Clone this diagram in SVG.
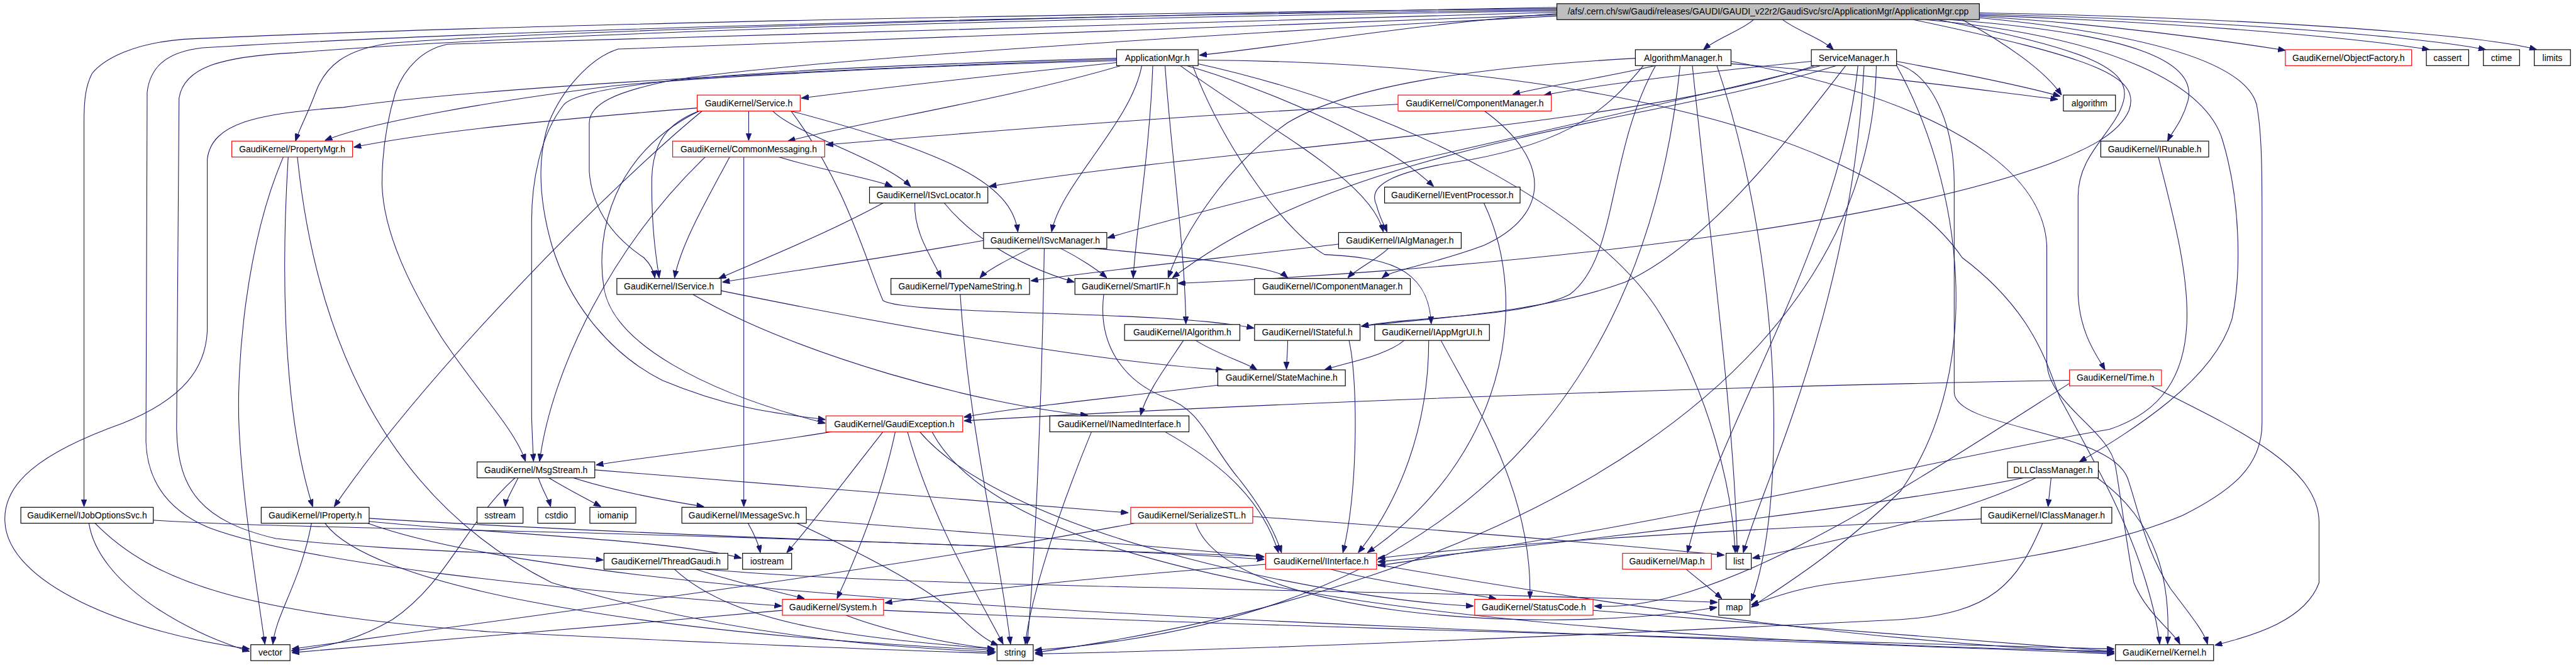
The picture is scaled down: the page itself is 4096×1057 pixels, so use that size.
<svg xmlns="http://www.w3.org/2000/svg" width="4096" height="1057" viewBox="0 0 4096 1057">
<defs>
<marker id="arr" viewBox="0 0 12 9" refX="12" refY="4.5" markerWidth="12" markerHeight="9" markerUnits="userSpaceOnUse" orient="auto"><path d="M0,0 L12,4.5 L0,9 z" fill="#191970" stroke="#191970" stroke-width="1"/></marker>
<style>
.e path{fill:none;stroke:#191970;stroke-width:1.1;marker-end:url(#arr)}
.n rect{fill:#ffffff;stroke:#000000;stroke-width:1.2}
.r rect{stroke:#ff0000}
.root rect{fill:#bfbfbf}
.n text{font-family:"Liberation Sans",Arial,"DejaVu Sans",sans-serif;font-size:14.3px;fill:#000000;text-anchor:middle}
</style>
</defs>
<rect x="0" y="0" width="4096" height="1057" fill="#ffffff"/>
<g transform="scale(0.975)">
<g id="connectors" class="e">
<path d="M2539,22 C2300,40 2100,75 1956,90"/>
<path d="M2860,32 C2840,50 2800,62 2778,81"/>
<path d="M2907,32 C2930,50 2970,62 2990,81"/>
<path d="M3228,27 C3450,40 3650,70 3727,82"/>
<path d="M3228,25 C3550,36 3850,62 3962,81"/>
<path d="M3228,23 C3600,32 3950,60 4054,81"/>
<path d="M3228,21 C3650,28 4050,56 4137,81"/>
<path d="M3200,32 C3270,70 3335,115 3362,155"/>
<path d="M3180,32 C3480,55 3585,100 3568,165 C3558,200 3542,215 3535,230"/>
<path d="M3160,32 C3400,80 3478,110 3463,165 C3450,215 3389,250 3389,320 L3389,480 C3392,545 3420,580 3433,603"/>
<path d="M3140,32 C3450,60 3600,140 3625,230 C3655,330 3655,450 3640,520 C3610,620 3480,700 3391,753"/>
<path d="M3120,32 C3420,95 3492,125 3472,180 C3455,220 3400,245 3340,268 C3000,390 2300,445 1921,462"/>
<path d="M3228,29 C3500,55 3660,100 3680,170 C3690,220 3689,300 3689,400 L3689,690 C3689,760 3640,800 3560,840 C3420,900 3200,925 3000,950 C2930,958 2890,975 2856,986"/>
<path d="M2539,12 C1800,25 900,50 640,70 C560,80 530,110 515,150 C500,190 488,210 482,230"/>
<path d="M2539,14 C1500,25 700,45 300,64 C220,70 170,95 150,120 C140,140 137,160 137,200 L137,826"/>
<path d="M2539,16 C1500,28 700,55 330,78 C270,85 245,110 240,150 L238,720 C240,780 270,830 340,860 C500,920 900,960 1275,988"/>
<path d="M2539,18 C1500,32 800,60 480,86 C360,92 300,110 292,160 L288,700 C290,800 330,850 450,878 C650,900 850,900 984,913"/>
<path d="M2539,20 C1700,40 1000,60 730,72 C690,80 660,110 645,150 C630,200 623,250 623,300 C625,380 670,470 720,550 C780,640 840,700 857,752"/>
<path d="M2539,24 C1700,50 1150,70 1008,80 C960,95 915,150 895,200 C875,260 880,330 900,400 C930,500 1000,580 1080,620 C1200,670 1280,675 1346,684"/>
<path d="M2539,26 C1900,60 1300,100 1100,130 C1000,150 962,170 961,200 L961,280 C965,330 990,380 1050,420 C1060,430 1066,440 1068,453"/>
<path d="M1821,102 C1600,125 1400,148 1307,160"/>
<path d="M1828,107 C1650,160 1400,200 1285,230"/>
<path d="M1821,99 C1400,110 1100,130 1000,140 C800,165 600,200 530,229"/>
<path d="M1821,97 C1400,110 800,140 560,175 C420,185 345,200 338,260 L338,540 C335,600 300,650 200,690 C60,740 5,790 8,850 C12,950 200,1030 407,1058"/>
<path d="M1821,95 C1300,110 960,130 920,170 C880,220 867,300 867,360 L867,680 C868,710 869,730 870,752"/>
<path d="M1935,107 C2050,140 2250,220 2338,304"/>
<path d="M1862,107 C1845,200 1730,300 1715,378"/>
<path d="M1925,107 C2050,200 2235,290 2256,378"/>
<path d="M1945,107 C2000,250 2100,380 2160,415 C2250,420 2330,430 2334,528"/>
<path d="M1880,107 C1875,250 1852,380 1848,453"/>
<path d="M1900,107 C1910,250 1932,400 1934,528"/>
<path d="M1954,98 C2500,100 3050,200 3200,420 C3320,510 3340,600 3360,650 C3420,760 3470,850 3500,950 C3515,1000 3520,1030 3522,1050"/>
<path d="M1954,104 C2300,180 2600,350 2700,500 C2790,640 2825,800 2830,901"/>
<path d="M2700,107 C2600,130 2520,140 2467,154"/>
<path d="M2680,107 C2620,180 2560,230 2400,260 C2260,280 2230,305 2245,335 C2250,355 2258,368 2262,378"/>
<path d="M2667,95 C2400,110 2200,140 2100,200 C2000,270 1930,380 1905,453"/>
<path d="M2700,107 C2620,250 2640,420 2560,480 C2480,520 2300,515 2220,532"/>
<path d="M2760,107 C2790,400 2830,700 2833,901"/>
<path d="M2800,107 C2900,400 2920,800 2856,980"/>
<path d="M2740,107 C2700,500 2500,1000 1687,1060"/>
<path d="M2823,100 C3100,150 3330,250 3338,400 L3338,590 C3340,660 3440,700 3450,760 C3460,820 3470,900 3480,950 C3500,1000 3545,1030 3555,1050"/>
<path d="M2823,104 C3050,120 3250,150 3356,162"/>
<path d="M2954,100 C2750,120 2600,140 2518,155"/>
<path d="M2960,107 C2650,210 2000,240 1613,304"/>
<path d="M2970,107 C2600,200 2100,300 1806,388"/>
<path d="M3010,107 C2900,250 2780,400 2650,460 C2500,515 2300,520 2220,532"/>
<path d="M2995,107 C2700,200 2200,230 1912,453"/>
<path d="M3093,100 C3200,120 3300,140 3360,157"/>
<path d="M3030,107 C3000,400 2800,700 2752,901"/>
<path d="M3040,107 C3020,500 2870,800 2843,901"/>
<path d="M3093,107 C3200,300 3240,600 3100,800 C3000,900 2900,960 2856,990"/>
<path d="M3060,107 C3050,600 2500,950 1688,1064"/>
<path d="M3093,104 C3150,120 3187,200 3187,300 L3187,640 C3190,700 3440,700 3470,780 C3490,840 3500,900 3540,960 C3570,1000 3595,1030 3600,1050"/>
<path d="M2280,170 C1900,190 1600,215 1347,236"/>
<path d="M2421,181 C2530,260 2530,350 2420,400 C2340,430 2270,440 2254,453"/>
<path d="M1221,181 L1221,229"/>
<path d="M1137,176 C900,195 700,215 577,240"/>
<path d="M1260,181 C1300,220 1440,260 1485,304"/>
<path d="M1290,181 C1550,250 1650,300 1660,378"/>
<path d="M1140,181 C1090,200 1065,230 1063,290 C1062,370 1070,420 1075,453"/>
<path d="M1145,181 C1000,300 700,600 545,826"/>
<path d="M1290,181 C1380,300 1410,420 1440,490 C1480,515 1900,505 2045,535"/>
<path d="M1140,181 C1000,250 970,380 985,470 C1000,560 1150,640 1346,690"/>
<path d="M1270,256 C1350,280 1420,290 1455,304"/>
<path d="M1190,256 C1150,330 1110,400 1100,453"/>
<path d="M1213,256 L1213,826"/>
<path d="M1150,256 C1000,400 900,600 880,752"/>
<path d="M470,256 C455,500 470,700 510,826"/>
<path d="M462,256 C400,400 385,600 390,700 C395,800 410,900 432,1050"/>
<path d="M485,256 C510,500 600,800 900,950 C1200,1040 1450,1055 1624,1063"/>
<path d="M1492,331 C1490,380 1520,420 1535,453"/>
<path d="M1540,331 C1580,380 1650,430 1752,460"/>
<path d="M1440,331 C1350,380 1250,420 1172,454"/>
<path d="M2420,331 C2500,500 2450,750 2230,901"/>
<path d="M1604,392 C1450,420 1300,440 1178,460"/>
<path d="M1680,405 C1650,420 1610,440 1598,453"/>
<path d="M1730,405 C1760,420 1790,440 1805,453"/>
<path d="M1785,405 C1950,420 2080,435 2100,453"/>
<path d="M1703,405 C1700,600 1690,900 1675,1050"/>
<path d="M2264,405 C2250,420 2210,440 2198,453"/>
<path d="M2183,398 C2000,420 1800,440 1681,458"/>
<path d="M1130,480 C1300,580 1600,660 1774,677"/>
<path d="M1176,474 C1500,540 1800,590 1995,603"/>
<path d="M1566,480 C1580,700 1630,900 1648,1050"/>
<path d="M1800,480 C1790,560 1830,620 1900,648 C1960,668 1970,720 2020,780 C2060,830 2080,870 2090,901"/>
<path d="M1930,555 C1900,600 1870,640 1860,677"/>
<path d="M1950,555 C1990,580 2030,590 2050,603"/>
<path d="M2100,555 C2100,575 2098,590 2098,602"/>
<path d="M2200,555 C2215,620 2215,800 2190,901"/>
<path d="M2290,555 C2260,580 2200,590 2160,603"/>
<path d="M2330,555 C2330,700 2280,820 2215,901"/>
<path d="M2350,555 C2400,650 2500,800 2495,976"/>
<path d="M1986,628 C1800,650 1650,665 1572,680"/>
<path d="M3375,620 C2800,630 2100,655 1572,686"/>
<path d="M3508,629 C3650,700 3780,760 3782,850 L3782,950 C3760,1010 3680,1035 3612,1052"/>
<path d="M3375,625 C3100,800 2800,1000 2600,988"/>
<path d="M1355,704 C1200,730 1050,745 972,758"/>
<path d="M1440,704 C1380,780 1320,860 1283,901"/>
<path d="M1460,704 C1440,800 1400,900 1365,976"/>
<path d="M1500,704 C1650,880 2200,980 2403,988"/>
<path d="M1480,704 C1520,850 1600,980 1636,1050"/>
<path d="M1520,704 C1650,950 2400,1040 3448,1062"/>
<path d="M1900,704 C2000,760 2060,820 2085,901"/>
<path d="M1780,704 C1720,850 1680,980 1672,1050"/>
<path d="M845,779 C835,800 825,815 824,826"/>
<path d="M878,779 C885,800 895,815 898,826"/>
<path d="M895,779 C930,800 960,815 980,826"/>
<path d="M935,779 C1000,800 1080,815 1148,826"/>
<path d="M970,766 C1300,790 1600,815 1840,836"/>
<path d="M840,779 C760,850 730,950 640,1010 C580,1045 530,1055 475,1061"/>
<path d="M250,848 C400,858 700,862 1000,870 C1500,885 1900,900 2062,912"/>
<path d="M145,853 C160,950 300,1030 407,1062"/>
<path d="M155,853 C250,950 400,1000 800,1030 C1200,1050 1450,1060 1622,1065"/>
<path d="M508,853 C490,950 450,1000 445,1050"/>
<path d="M602,845 C1000,870 1600,890 2060,907"/>
<path d="M602,850 C800,870 1100,880 1209,910"/>
<path d="M530,853 C600,950 1000,1030 1622,1060"/>
<path d="M600,853 C1000,1000 2600,1030 3448,1066"/>
<path d="M1220,853 C1230,870 1238,890 1240,901"/>
<path d="M1315,847 C1600,870 1900,890 2062,908"/>
<path d="M1300,853 C1400,900 1500,950 1560,1000 C1590,1030 1610,1045 1628,1052"/>
<path d="M2043,842 C2300,860 2600,885 2812,905"/>
<path d="M1850,853 C1500,920 900,1000 476,1058"/>
<path d="M1950,853 C2000,1000 2500,1040 2800,990"/>
<path d="M3231,846 C2900,860 2500,880 2247,910"/>
<path d="M3331,853 C3290,950 3250,1000 3100,1010 C2500,1040 2000,1060 1688,1066"/>
<path d="M3345,779 L3340,826"/>
<path d="M3300,779 C3100,820 2600,880 2247,916"/>
<path d="M3320,779 C3200,840 3000,880 2858,910"/>
<path d="M3420,779 C3520,850 3540,950 3535,1050"/>
<path d="M1135,928 C1200,950 1270,965 1312,976"/>
<path d="M1100,928 C1200,1020 1400,1040 1622,1058"/>
<path d="M1150,928 C1500,960 2300,960 2801,982"/>
<path d="M2064,920 C1800,940 1600,960 1443,983"/>
<path d="M2170,928 C2250,950 2380,965 2440,976"/>
<path d="M2245,920 C2700,1000 3100,1050 3448,1064"/>
<path d="M2750,928 C2770,945 2790,960 2808,976"/>
<path d="M1276,995 C1000,1020 700,1045 476,1064"/>
<path d="M1380,1003 C1450,1030 1550,1050 1622,1058"/>
<path d="M1441,995 C2000,1020 2800,1040 3448,1058"/>
<path d="M2598,995 C2900,1020 3200,1045 3448,1062"/>
<path d="M3520,256 C3570,450 3620,640 3440,700 C3250,730 2700,860 2247,922"/>
</g>
<g id="n_root" class="n root"><rect x="2539" y="6" width="689" height="26"/><text x="2883.5" y="24">/afs/.cern.ch/sw/Gaudi/releases/GAUDI/GAUDI_v22r2/GaudiSvc/src/ApplicationMgr/ApplicationMgr.cpp</text></g>
<g id="n_ApplicationMgr_h" class="n"><rect x="1821" y="81" width="133" height="26"/><text x="1887.5" y="99">ApplicationMgr.h</text></g>
<g id="n_AlgorithmManager_h" class="n"><rect x="2667" y="81" width="156" height="26"/><text x="2745" y="99">AlgorithmManager.h</text></g>
<g id="n_ServiceManager_h" class="n"><rect x="2954" y="81" width="139" height="26"/><text x="3023.5" y="99">ServiceManager.h</text></g>
<g id="n_ObjectFactory_h" class="n r"><rect x="3727" y="81" width="206" height="26"/><text x="3830" y="99">GaudiKernel/ObjectFactory.h</text></g>
<g id="n_cassert" class="n"><rect x="3957" y="81" width="69" height="26"/><text x="3991.5" y="99">cassert</text></g>
<g id="n_ctime" class="n"><rect x="4050" y="81" width="59" height="26"/><text x="4079.5" y="99">ctime</text></g>
<g id="n_limits" class="n"><rect x="4133" y="81" width="59" height="26"/><text x="4162.5" y="99">limits</text></g>
<g id="n_Service_h" class="n r"><rect x="1137" y="155" width="168" height="26"/><text x="1221" y="173">GaudiKernel/Service.h</text></g>
<g id="n_ComponentManager_h" class="n r"><rect x="2280" y="155" width="250" height="26"/><text x="2405" y="173">GaudiKernel/ComponentManager.h</text></g>
<g id="n_algorithm" class="n"><rect x="3365" y="155" width="85" height="26"/><text x="3407.5" y="173">algorithm</text></g>
<g id="n_PropertyMgr_h" class="n r"><rect x="378" y="230" width="197" height="26"/><text x="476.5" y="248">GaudiKernel/PropertyMgr.h</text></g>
<g id="n_CommonMessaging_h" class="n r"><rect x="1097" y="230" width="248" height="26"/><text x="1221" y="248">GaudiKernel/CommonMessaging.h</text></g>
<g id="n_IRunable_h" class="n"><rect x="3426" y="230" width="176" height="26"/><text x="3514" y="248">GaudiKernel/IRunable.h</text></g>
<g id="n_ISvcLocator_h" class="n"><rect x="1418" y="305" width="193" height="26"/><text x="1514.5" y="323">GaudiKernel/ISvcLocator.h</text></g>
<g id="n_IEventProcessor_h" class="n"><rect x="2258" y="305" width="221" height="26"/><text x="2368.5" y="323">GaudiKernel/IEventProcessor.h</text></g>
<g id="n_ISvcManager_h" class="n"><rect x="1604" y="379" width="201" height="26"/><text x="1704.5" y="397">GaudiKernel/ISvcManager.h</text></g>
<g id="n_IAlgManager_h" class="n"><rect x="2183" y="379" width="200" height="26"/><text x="2283" y="397">GaudiKernel/IAlgManager.h</text></g>
<g id="n_IService_h" class="n"><rect x="1006" y="454" width="170" height="26"/><text x="1091" y="472">GaudiKernel/IService.h</text></g>
<g id="n_TypeNameString_h" class="n"><rect x="1453" y="454" width="226" height="26"/><text x="1566" y="472">GaudiKernel/TypeNameString.h</text></g>
<g id="n_SmartIF_h" class="n"><rect x="1753" y="454" width="167" height="26"/><text x="1836.5" y="472">GaudiKernel/SmartIF.h</text></g>
<g id="n_IComponentManager_h" class="n"><rect x="2046" y="454" width="254" height="26"/><text x="2173" y="472">GaudiKernel/IComponentManager.h</text></g>
<g id="n_IAlgorithm_h" class="n"><rect x="1834" y="529" width="188" height="26"/><text x="1928" y="547">GaudiKernel/IAlgorithm.h</text></g>
<g id="n_IStateful_h" class="n"><rect x="2046" y="529" width="172" height="26"/><text x="2132" y="547">GaudiKernel/IStateful.h</text></g>
<g id="n_IAppMgrUI_h" class="n"><rect x="2242" y="529" width="187" height="26"/><text x="2335.5" y="547">GaudiKernel/IAppMgrUI.h</text></g>
<g id="n_StateMachine_h" class="n"><rect x="1986" y="603" width="208" height="26"/><text x="2090" y="621">GaudiKernel/StateMachine.h</text></g>
<g id="n_Time_h" class="n r"><rect x="3375" y="603" width="150" height="26"/><text x="3450" y="621">GaudiKernel/Time.h</text></g>
<g id="n_GaudiException_h" class="n r"><rect x="1347" y="678" width="223" height="26"/><text x="1458.5" y="696">GaudiKernel/GaudiException.h</text></g>
<g id="n_INamedInterface_h" class="n"><rect x="1712" y="678" width="227" height="26"/><text x="1825.5" y="696">GaudiKernel/INamedInterface.h</text></g>
<g id="n_MsgStream_h" class="n"><rect x="778" y="753" width="192" height="26"/><text x="874" y="771">GaudiKernel/MsgStream.h</text></g>
<g id="n_DLLClassManager_h" class="n"><rect x="3274" y="753" width="148" height="26"/><text x="3348" y="771">DLLClassManager.h</text></g>
<g id="n_IJobOptionsSvc_h" class="n"><rect x="34" y="827" width="216" height="26"/><text x="142" y="845">GaudiKernel/IJobOptionsSvc.h</text></g>
<g id="n_IProperty_h" class="n"><rect x="426" y="827" width="176" height="26"/><text x="514" y="845">GaudiKernel/IProperty.h</text></g>
<g id="n_sstream" class="n"><rect x="778" y="827" width="75" height="26"/><text x="815.5" y="845">sstream</text></g>
<g id="n_cstdio" class="n"><rect x="877" y="827" width="61" height="26"/><text x="907.5" y="845">cstdio</text></g>
<g id="n_iomanip" class="n"><rect x="962" y="827" width="75" height="26"/><text x="999.5" y="845">iomanip</text></g>
<g id="n_IMessageSvc_h" class="n"><rect x="1112" y="827" width="203" height="26"/><text x="1213.5" y="845">GaudiKernel/IMessageSvc.h</text></g>
<g id="n_SerializeSTL_h" class="n r"><rect x="1844" y="827" width="199" height="26"/><text x="1943.5" y="845">GaudiKernel/SerializeSTL.h</text></g>
<g id="n_IClassManager_h" class="n"><rect x="3231" y="827" width="213" height="26"/><text x="3337.5" y="845">GaudiKernel/IClassManager.h</text></g>
<g id="n_ThreadGaudi_h" class="n"><rect x="985" y="902" width="202" height="26"/><text x="1086" y="920">GaudiKernel/ThreadGaudi.h</text></g>
<g id="n_iostream" class="n"><rect x="1211" y="902" width="80" height="26"/><text x="1251" y="920">iostream</text></g>
<g id="n_IInterface_h" class="n r"><rect x="2064" y="902" width="181" height="26"/><text x="2154.5" y="920">GaudiKernel/IInterface.h</text></g>
<g id="n_Map_h" class="n r"><rect x="2646" y="902" width="145" height="26"/><text x="2718.5" y="920">GaudiKernel/Map.h</text></g>
<g id="n_list" class="n"><rect x="2815" y="902" width="41" height="26"/><text x="2835.5" y="920">list</text></g>
<g id="n_System_h" class="n r"><rect x="1276" y="977" width="165" height="26"/><text x="1358.5" y="995">GaudiKernel/System.h</text></g>
<g id="n_StatusCode_h" class="n r"><rect x="2405" y="977" width="193" height="26"/><text x="2501.5" y="995">GaudiKernel/StatusCode.h</text></g>
<g id="n_map" class="n"><rect x="2803" y="977" width="51" height="26"/><text x="2828.5" y="995">map</text></g>
<g id="n_vector" class="n"><rect x="409" y="1051" width="64" height="26"/><text x="441" y="1069">vector</text></g>
<g id="n_string" class="n"><rect x="1626" y="1051" width="59" height="26"/><text x="1655.5" y="1069">string</text></g>
<g id="n_Kernel_h" class="n"><rect x="3450" y="1051" width="160" height="26"/><text x="3530" y="1069">GaudiKernel/Kernel.h</text></g>
</g>
</svg>
